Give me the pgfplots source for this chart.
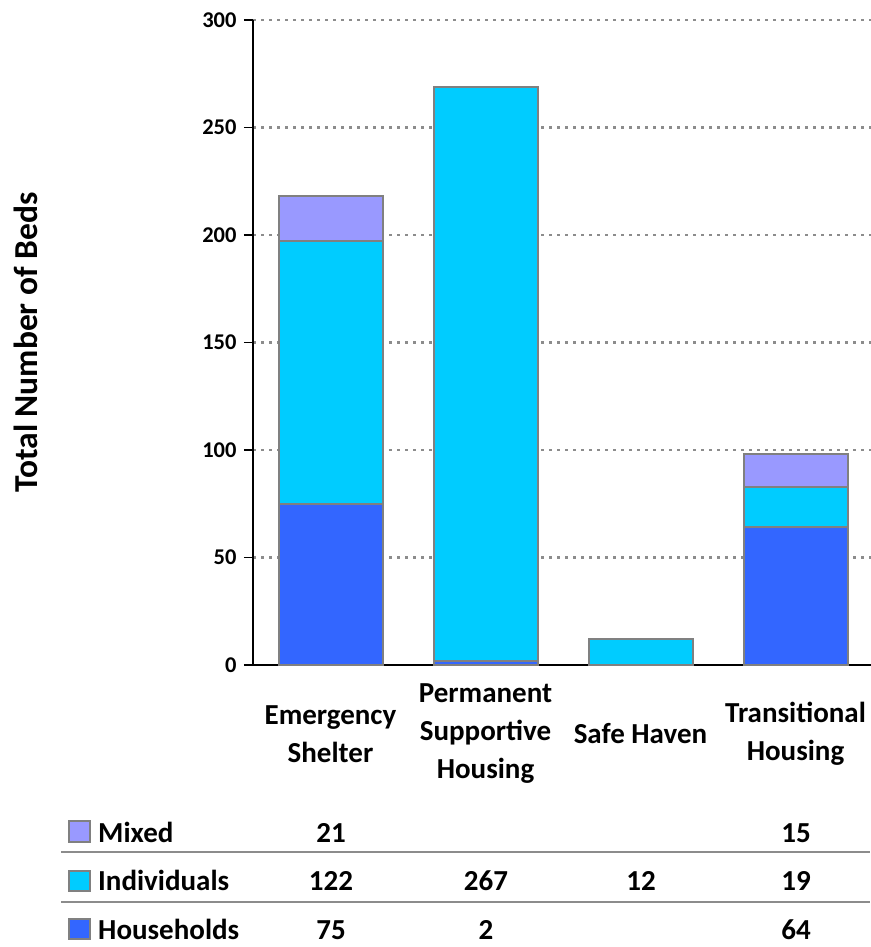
\documentclass[border=0pt]{standalone}
\usepackage{pgfplots}
\pgfplotsset{compat=1.18}
\usepackage{fontspec}
\setmainfont{Carlito}
\definecolor{hh}{HTML}{3366FF}
\definecolor{ind}{HTML}{00CCFF}
\definecolor{mix}{HTML}{9999FF}
\definecolor{edge}{HTML}{808080}
\definecolor{gridc}{HTML}{8C8C8C}
\newcommand{\cat}{\bfseries\fontsize{29}{38}\selectfont}
\newcommand{\ylab}{\bfseries\fontsize{33.5}{40}\selectfont}
\newcommand{\tk}{\bfseries\fontsize{22.5}{26}\selectfont}
\begin{document}
\begin{tikzpicture}[x=1pt,y=1pt]
\begin{axis}[
  at={(253pt,282pt)}, anchor=south west,
  scale only axis, width=620pt, height=645pt,
  ybar stacked, bar width=104pt,
  xmin=-0.5, xmax=3.5, ymin=0, ymax=300,
  xtick={0,1,2,3},
  xticklabels={Emergency\\Shelter, Permanent\\Supportive\\Housing, Safe Haven, Transitional\\Housing},
  xticklabel style={align=center, anchor=center, yshift=-60pt, font=\cat},
  xtick style={draw=none},
  ytick={0,50,...,300},
  yticklabel style={font=\tk, xshift=-4pt, /pgf/number format/assume math mode=true},
  ytick style={black, line width=1.5pt},
  tick align=outside, major tick length=9pt,
  axis lines*=left,
  axis line style={-, black, line width=1.8pt},
  ymajorgrids, grid style={gridc, line width=2.5pt, dash pattern=on 3pt off 5pt},
  ylabel={Total Number of Beds},
  ylabel style={font=\ylab, at={(axis description cs:-0.366,0.5)}, anchor=center},
  clip=false,
]
\addplot[fill=hh, draw=edge, line width=2pt] coordinates {(0,75) (1,2) (2,0) (3,64)};
\addplot[fill=ind, draw=edge, line width=2pt] coordinates {(0,122) (1,267) (2,12) (3,19)};
\addplot[fill=mix, draw=edge, line width=2pt] coordinates {(0,21) (1,0) (2,0) (3,15)};
\end{axis}
% data table below the chart
\draw[gridc, line width=2.5pt] (61,95) -- (870,95);
\draw[gridc, line width=2.5pt] (61,45) -- (870,45);
\filldraw[fill=mix, draw=edge, line width=1.5pt] (69,105) rectangle (90,126);
\filldraw[fill=ind, draw=edge, line width=1.5pt] (69,56) rectangle (90,76);
\filldraw[fill=hh, draw=edge, line width=1.5pt] (69,8) rectangle (90,28);
\begin{scope}[every node/.style={inner sep=0pt, font=\cat}]
\node[anchor=base west] at (98,104) {Mixed};
\node[anchor=base west] at (98,56) {Individuals};
\node[anchor=base west] at (98,8) {Households};
\node[anchor=base] at (331,104) {21};
\node[anchor=base] at (796,104) {15};
\node[anchor=base] at (331,56) {122};
\node[anchor=base] at (486,56) {267};
\node[anchor=base] at (641,56) {12};
\node[anchor=base] at (796,56) {19};
\node[anchor=base] at (331,8) {75};
\node[anchor=base] at (486,8) {2};
\node[anchor=base] at (796,8) {64};
\end{scope}
\pgfresetboundingbox
\path (0,0) rectangle (870,947);
\end{tikzpicture}
\end{document}
